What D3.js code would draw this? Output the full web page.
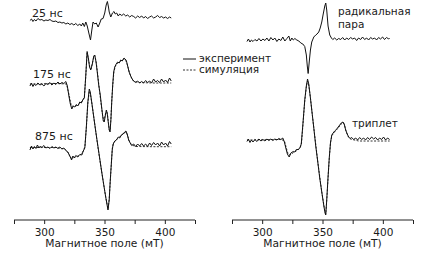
<!DOCTYPE html>
<html><head><meta charset="utf-8">
<script src="https://cdn.jsdelivr.net/npm/d3@7"></script>
<style>
html,body{margin:0;padding:0;background:#fff;}
svg{display:block;}
text{font-family:"DejaVu Sans",Verdana,sans-serif;fill:#1a1a1a;}
</style></head>
<body><svg id="c" width="445" height="277"></svg>
<script>
// ---------- data (field in mT, intensity in arbitrary units) ----------
const tickValues = [275, 300, 325, 350, 375, 400, 425];
const tickLabels = [300, 350, 400];
const xTitle = "Магнитное поле (мТ)";
const leftLabels = ["25 нс", "175 нс", "875 нс"];
const rightLabels = ["радикальная", "пара", "триплет"];
const legendLabels = ["эксперимент", "симуляция"];

const exp25 = [[288.2,-0.5],[289.5,1],[290.7,-1.5],[291.9,0.5],[293.2,-1],[294.8,1.5],[296.5,0],[298.1,0.5],[299.8,-1],[301.4,0],[303.1,-0.5],[304.8,0.5],[306.4,-1],[308.1,-1.5],[309.7,-1],[311.4,-2.5],[313.0,-2],[314.7,-3],[316.3,-2.5],[318.0,-4],[319.6,-3],[321.3,-4.5],[322.9,-3.5],[324.6,-5],[326.2,-3.5],[327.9,-5.5],[329.5,-4],[330.8,-6],[332.0,-3],[333.3,-6.5],[334.5,-2],[335.7,-6],[337.0,-13],[338.4,-20],[339.5,-10],[340.5,-2],[341.9,-4],[343.2,-3],[344.7,-7],[346.1,-3],[347.3,1],[348.8,1.5],[350.2,7],[351.4,15],[352.4,18.5],[353.3,13],[353.9,8],[355.2,3],[356.6,7],[357.9,8.5],[358.9,6],[360.1,7],[361.4,4],[362.6,6],[364.3,4.5],[365.9,6],[367.6,4],[369.2,5],[370.9,3],[372.5,4.5],[374.2,3.5],[375.8,2],[377.5,4],[379.1,2.5],[380.8,4],[382.4,2],[384.1,3.5],[385.7,1.5],[387.4,3],[389.0,4],[390.7,2],[392.4,3],[394.0,4.5],[395.7,2.5],[397.3,3.5],[399.0,2],[400.6,3],[402.3,1.5],[403.9,3],[405.3,2]];

const exp175 = [[288.2,-2],[289.5,1],[290.7,-2.5],[291.9,0],[293.2,-1.5],[294.8,1],[296.5,-1],[298.1,0],[299.8,-2],[301.4,0.5],[303.1,-0.5],[304.8,1.5],[306.4,-1],[308.1,1],[309.7,-0.5],[311.4,2],[313.0,0],[314.7,1.5],[316.3,0.5],[318.0,2.5],[319.2,-2],[320.5,-12],[321.7,-20],[322.9,-25],[324.2,-22],[325.4,-23],[326.7,-20.5],[327.9,-22],[329.5,-18],[330.8,-19],[332.0,-16],[333.3,-14],[334.5,9],[335.6,32.5],[336.6,26],[337.6,17],[338.6,14],[339.9,20],[341.1,28],[341.9,29],[343.0,22],[344.0,12],[345.2,-1],[346.5,-11],[347.7,-24],[349.0,-37],[349.8,-38],[350.6,-32],[351.6,-26],[352.3,-30],[353.1,-38],[353.9,-46],[354.6,-48],[355.3,-36],[356.0,-18],[356.8,-1],[357.6,12],[358.5,17],[359.7,20],[360.9,22],[362.2,21],[363.4,24],[364.7,23],[366.2,26],[367.1,25],[368.1,23.5],[369.2,18],[370.4,12],[371.7,8],[372.9,5],[374.2,3],[375.8,1.5],[377.5,3],[379.1,1],[380.8,2.5],[382.4,1],[384.1,3.5],[385.7,1.5],[387.4,3],[389.0,1],[390.7,5],[392.4,2],[394.0,3.5],[395.7,1.5],[397.3,5],[399.0,2],[400.6,4],[402.3,1.5],[403.9,6],[405.3,3]];

const sim175 = [[288.2,0],[310,0.5],[318.5,0],[320.5,-10],[322.5,-22],[325,-22.5],[328,-21],[331,-18],[333.3,-13],[334.5,8],[335.6,31],[336.7,25],[337.8,17],[338.8,15],[340,21],[341.3,28],[342,28.5],[343.2,21],[344.3,10],[345.5,-3],[347,-18],[348.5,-32],[349.6,-37],[350.6,-31],[351.6,-26],[352.4,-30],[353.3,-39],[354,-46],[354.6,-47],[355.3,-35],[356,-17],[356.9,0],[357.8,12],[359,18],[361,21],[363.5,23],[366,25],[367.5,24],[369,19],[370.5,12],[372,7],[374,3],[378,1.5],[390,1],[405.3,1]];

const exp875 = [[288.2,-2],[289.5,2],[290.7,-1],[291.9,1.5],[293.2,-0.5],[294.4,3],[295.7,0],[296.9,2],[298.1,0.5],[299.8,2.5],[301.4,0],[303.1,1],[304.8,-0.5],[306.4,1.5],[308.1,0],[309.7,1],[311.4,-0.5],[313.0,1],[314.7,-1],[316.3,0],[318.0,-2.5],[319.6,-4],[321.3,-8],[322.7,-12],[323.8,-8],[325.0,-10],[326.2,-7.5],[327.9,-9],[329.5,-6.5],[331.2,-7],[332.4,-3],[333.7,0],[334.9,20],[336.2,46],[337.4,59],[338.2,56],[339.5,45],[341.1,31],[342.7,17],[344.4,3],[346.1,-11],[347.7,-24],[349.4,-37],[351.0,-49],[352.9,-62],[353.9,-52],[354.7,-34],[355.6,-17],[356.4,-2],[357.2,4],[358.5,7],[359.9,8],[361.4,11],[362.6,10],[364.0,13],[365.5,14],[366.7,16],[367.8,17],[368.8,14],[370.0,8],[371.3,5],[372.5,2.5],[374.2,4],[375.8,1.5],[377.5,4],[379.1,2],[380.8,4.5],[382.4,2],[384.1,4],[385.7,1.5],[387.4,5],[389.0,2.5],[390.7,5.5],[392.4,3],[394.0,5],[395.7,2],[397.3,6],[399.0,3],[400.6,5],[402.3,2],[403.9,6.5],[405.3,4]];

const sim875 = [[288.2,0.5],[310,0.5],[317,-1],[319.5,-4],[321.5,-9],[323,-10.5],[326,-9],[330,-7],[332.5,-3],[333.8,2],[335,21],[336.2,45],[337.4,57],[338.3,54],[339.6,44],[341.2,30],[344.4,2],[347.7,-24],[351,-49],[352.9,-61],[353.9,-51],[354.8,-33],[355.7,-15],[356.5,0],[357.5,5],[359.5,8],[362,10.5],[365,14],[367.8,16],[369,13],[370.5,7],[372.5,3],[376,1.5],[390,1.3],[405.3,1.3]];

const expRP = [[287.4,-1.5],[288.6,1],[289.9,-2],[291.1,0],[292.4,-1.5],[294.0,0.5],[295.7,-1],[297.3,1.5],[299.0,-1],[300.6,1],[302.3,-0.5],[303.9,2],[305.6,-1],[307.2,2.5],[308.9,0],[310.5,2],[312.2,-1.5],[313.8,1],[315.5,-0.5],[317.1,3],[318.8,-1],[320.5,1.5],[322.1,4],[323.3,-1],[324.6,2],[325.8,0],[327.1,1.5],[328.7,0],[330.4,-1],[332.0,-3],[333.7,-4],[335.3,-6.5],[336.6,-15],[337.4,-26],[338.1,-33.5],[339.0,-22],[340.0,-10],[341.1,-2],[342.8,3],[344.4,5],[345.5,6],[346.9,8],[348.1,12],[349.4,18],[350.6,26],[351.9,34],[352.7,37],[353.5,30],[354.6,14],[356.0,5],[357.4,2],[358.5,0.5],[360.1,2],[361.8,0],[363.4,1.5],[365.1,0.5],[366.7,2.5],[368.4,0],[370.0,2],[371.7,0.5],[373.3,2.5],[375.0,1],[376.6,2],[378.3,-0.5],[379.9,2],[381.6,0.5],[383.2,3],[384.9,0.5],[386.6,2],[388.2,0],[389.9,2.5],[391.5,1],[393.2,2],[394.8,0],[396.5,2.5],[398.1,1],[399.8,3],[401.4,0.5],[403.1,2.5],[404.8,1],[405.6,2]];

const expT = [[287.4,-1.5],[288.6,1],[289.9,-2.5],[291.1,0],[292.4,-2],[294.0,0.5],[295.7,-1.5],[297.3,1],[299.0,-1],[300.6,0.5],[302.3,-1],[303.9,1],[305.6,-0.5],[307.2,1],[308.9,-0.5],[310.5,1],[312.2,0],[313.8,1.5],[315.5,0.5],[317.1,2],[318.4,-2],[319.6,-8],[320.9,-14],[322.4,-17],[323.8,-13],[325.7,-11.5],[327.1,-12],[328.3,-9.5],[329.8,-9.5],[331.2,-8],[332.4,-4],[333.7,15],[335.3,40],[336.6,54],[337.6,61],[338.6,56],[339.9,43],[341.1,30],[342.8,12],[344.4,-6],[346.1,-22],[347.7,-38],[349.4,-52],[351.0,-65],[352.1,-73],[352.7,-75],[353.5,-60],[354.6,-37],[355.6,-18],[356.6,-3],[357.7,5],[358.8,7],[360.1,9],[361.5,10.5],[363.0,13],[364.3,15],[365.5,17],[367.0,18],[368.0,16],[369.2,10],[370.5,6],[371.7,3],[372.9,1.5],[374.2,2.5],[375.8,0.5],[377.5,2],[379.1,0],[380.8,2.5],[382.4,0.5],[384.1,2],[385.7,0],[387.4,2.5],[389.0,0.5],[390.7,3],[392.4,1],[394.0,2.5],[395.7,0],[397.3,2],[399.0,0.5],[400.6,3],[402.3,0],[403.9,2],[405.6,0.5]];

const simT = [[287.4,0],[316,0.5],[318.5,-1],[320,-8],[321.5,-14],[323,-15],[326,-12.5],[329.5,-10],[331.5,-8],[332.6,-3],[333.7,14],[335.3,39],[336.6,53],[337.6,59],[338.6,55],[340,42],[342.8,12],[346.1,-22],[349.4,-52],[351.5,-68],[352.7,-74],[353.6,-59],[354.7,-36],[355.7,-17],[356.7,-2],[357.8,4.5],[360,8],[363,12],[365.5,16],[367,17.5],[368.2,15],[369.5,9],[371,4],[373,1],[380,-1],[405.6,-1]];

// ---------- drawing ----------
const svg = d3.select("#c");
const axisY = 220;
const y = d3.scaleLinear().domain([0, 220]).range([axisY, 0]);

const panels = [
  {x0: 14, x1: 195, traces: [
     {exp: exp25, off: 200},
     {exp: exp175, sim: sim175, off: 136},
     {exp: exp875, sim: sim875, off: 72}]},
  {x0: 232, x1: 413, traces: [
     {exp: expRP, off: 180},
     {exp: expT, sim: simT, off: 80}]}
];

panels.forEach(p => {
  const x = d3.scaleLinear().domain([275, 425]).range([p.x0, p.x1]);
  p.x = x;
  const g = svg.append("g");
  p.traces.forEach(t => {
    const line = d3.line().x(d => x(d[0])).y(d => y(t.off + d[1]));
    if (t.sim) {
      g.append("path").attr("d", line(t.sim)).attr("fill", "none")
        .attr("stroke", "#333").attr("stroke-width", 1).attr("stroke-dasharray", "2,1.5");
    }
    g.append("path").attr("d", line(t.exp)).attr("fill", "none")
      .attr("stroke", "#111").attr("stroke-width", 1).attr("stroke-linejoin", "round");
  });
  const axis = d3.axisBottom(x).tickValues(tickValues).tickSize(4).tickPadding(5)
    .tickFormat(d => tickLabels.includes(d) ? d : "");
  const ag = svg.append("g").attr("transform", `translate(0,${axisY})`).call(axis);
  ag.select(".domain").attr("stroke", "#222").attr("d", `M${p.x0},0H${p.x1}`);
  ag.selectAll(".tick line").attr("stroke", "#222");
  ag.selectAll(".tick text").attr("font-size", "10.5px").attr("fill", "#1a1a1a")
    .attr("font-family", "DejaVu Sans, sans-serif");
  svg.append("text").attr("x", x(350)).attr("y", 247).attr("text-anchor", "middle")
    .attr("font-size", "10.7px").text(xTitle);
});

// trace labels
const L = panels[0].x, R = panels[1].x;
svg.append("text").attr("x", 32).attr("y", 17).attr("font-size", "11px").text(leftLabels[0]);
svg.append("text").attr("x", 33).attr("y", 78).attr("font-size", "11px").text(leftLabels[1]);
svg.append("text").attr("x", 35).attr("y", 140).attr("font-size", "11px").text(leftLabels[2]);
svg.append("text").attr("x", 338).attr("y", 15).attr("font-size", "10.5px").text(rightLabels[0]);
svg.append("text").attr("x", 338).attr("y", 28).attr("font-size", "10.5px").text(rightLabels[1]);
svg.append("text").attr("x", 352).attr("y", 127).attr("font-size", "10.5px").text(rightLabels[2]);

// legend
const lg = svg.append("g");
lg.append("line").attr("x1", 183).attr("x2", 196).attr("y1", 59).attr("y2", 59)
  .attr("stroke", "#111").attr("stroke-width", 1);
lg.append("line").attr("x1", 183).attr("x2", 196).attr("y1", 70).attr("y2", 70)
  .attr("stroke", "#333").attr("stroke-width", 1).attr("stroke-dasharray", "2,1.5");
lg.append("text").attr("x", 199).attr("y", 62).attr("font-size", "10.5px").text(legendLabels[0]);
lg.append("text").attr("x", 199).attr("y", 73).attr("font-size", "10.5px").text(legendLabels[1]);
</script></body></html>
